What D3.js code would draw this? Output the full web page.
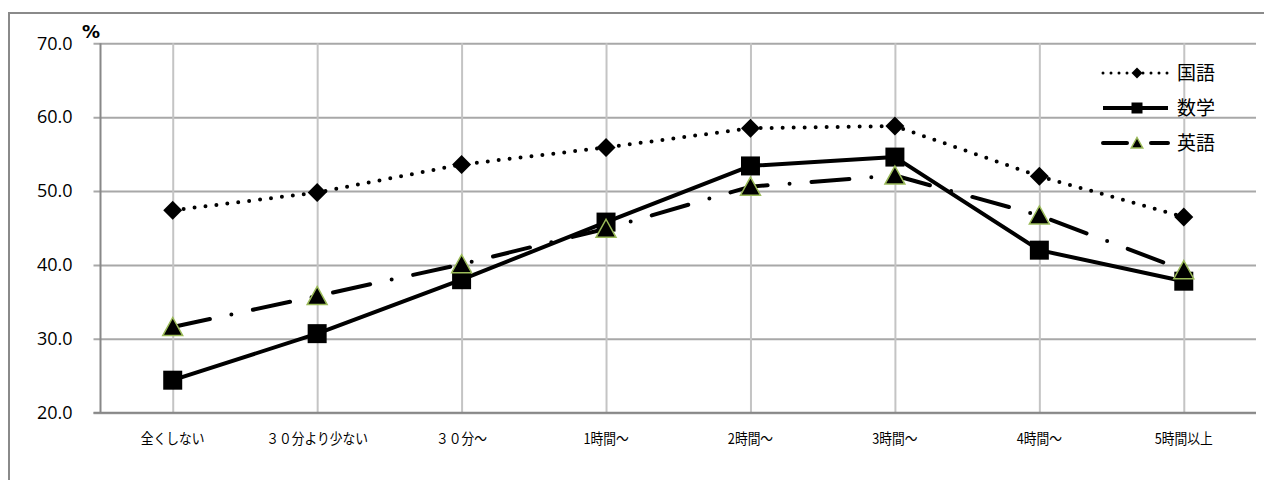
<!DOCTYPE html>
<html>
<head>
<meta charset="utf-8">
<script src="https://cdn.jsdelivr.net/npm/d3@7"></script>
<style>
  html, body { margin: 0; padding: 0; background: #fff; }
  svg { display: block; }
</style>
</head>
<body>
<svg id="chart" width="1264" height="480"></svg>
<script>
// Study time categories and average scores (%) per subject
const categories = ["全くしない", "３０分より少ない", "３０分～", "1時間～", "2時間～", "3時間～", "4時間～", "5時間以上"];
const kokugo = [47.4, 49.8, 53.6, 55.9, 58.5, 58.8, 52.0, 46.5];
const sugaku = [24.4, 30.7, 38.0, 45.8, 53.4, 54.6, 42.0, 37.8];
const eigo   = [31.6, 35.8, 40.1, 44.9, 50.6, 52.1, 46.7, 39.3];
const seriesNames = ["国語", "数学", "英語"];
const yTicks = [20, 30, 40, 50, 60, 70];

const svg = d3.select("#chart");
const plot = { left: 100.5, right: 1256, top: 43.3, bottom: 412.7 };

const x = d3.scalePoint().domain(categories).range([plot.left, plot.right]).padding(0.5);
const y = d3.scaleLinear().domain([20, 70]).range([plot.bottom, plot.top]);

// outer frame (runs past the right and bottom edges)
svg.append("path")
  .attr("d", "M9,490 L9,13 L1280,13")
  .attr("fill", "none").attr("stroke", "#8a8a8a").attr("stroke-width", 2);

// horizontal gridlines + outward ticks
const yAxis = d3.axisLeft(y).tickValues(yTicks).tickFormat(d3.format(".1f"))
  .tickSizeInner(-(plot.right - plot.left)).tickSizeOuter(0).tickPadding(28);
const gy = svg.append("g").attr("transform", `translate(${plot.left},0)`).call(yAxis);
gy.select(".domain").remove();
gy.selectAll(".tick line").attr("stroke", "#a8a8a8").attr("stroke-width", 2).attr("x1", -7);
gy.selectAll(".tick text")
  .attr("font-family", "'Open Sans', sans-serif").attr("font-size", 18).attr("font-weight", 400)
  .attr("fill", "#000").attr("x", -28);

// vertical gridlines at each category
const xAxis = d3.axisBottom(x).tickSizeInner(-(plot.bottom - plot.top)).tickSizeOuter(0).tickFormat("");
const gx = svg.append("g").attr("transform", `translate(0,${plot.bottom})`).call(xAxis);
gx.select(".domain").remove();
gx.selectAll(".tick line").attr("stroke", "#c4c4c4").attr("stroke-width", 2);

// axis lines
svg.append("line").attr("x1", plot.left).attr("x2", plot.left).attr("y1", plot.top).attr("y2", plot.bottom)
  .attr("stroke", "#888").attr("stroke-width", 2);
svg.append("line").attr("x1", plot.left - 7).attr("x2", plot.right).attr("y1", plot.bottom).attr("y2", plot.bottom)
  .attr("stroke", "#888").attr("stroke-width", 2);

// category labels
svg.append("g").selectAll("text").data(categories).join("text")
  .attr("transform", d => `translate(${x(d)},444) scale(0.88,1)`)
  .attr("text-anchor", "middle")
  .attr("font-family", "'Noto Sans CJK JP', sans-serif").attr("font-size", 14.5).attr("fill", "#000")
  .text(d => d);

// unit label
svg.append("text").attr("x", 82).attr("y", 38)
  .attr("font-family", "'DejaVu Sans', sans-serif").attr("font-size", 18).attr("font-weight", "bold")
  .text("%");

// marker shapes
const diamond = s => `M0,${-s} L${s},0 L0,${s} L${-s},0 Z`;
const square = s => `M${-s},${-s} H${s} V${s} H${-s} Z`;
const triangle = s => `M0,${-s} L${s * 1.05},${s * 0.9} L${-s * 1.05},${s * 0.9} Z`;

const styles = [
  { data: kokugo, dash: "0,11", width: 4, shape: diamond, size: 9.5, stroke: "none", lDash: "0,8", lWidth: 3, lSize: 5.5 },
  { data: sugaku, dash: null, width: 4, shape: square, size: 9.5, stroke: "none", lDash: null, lWidth: 4, lSize: 5.5 },
  { data: eigo, dash: "38,22,0,22", width: 4, shape: triangle, size: 9.5, stroke: "#9bbb59", lDash: "24,24", lWidth: 4, lSize: 5.5 }
];

const line = d3.line().x((d, i) => x(categories[i])).y(d => y(d));

styles.forEach(s => {
  svg.append("path").datum(s.data)
    .attr("d", line)
    .attr("fill", "none").attr("stroke", "#000").attr("stroke-width", s.width)
    .attr("stroke-linecap", "round").attr("stroke-linejoin", "round")
    .attr("stroke-dasharray", s.dash);
  svg.append("g").selectAll("path").data(s.data).join("path")
    .attr("transform", (d, i) => `translate(${x(categories[i])},${y(d)})`)
    .attr("d", s.shape(s.size))
    .attr("fill", "#000")
    .attr("stroke", s.stroke).attr("stroke-width", 1.5);
});

// legend
const legend = svg.append("g").attr("transform", "translate(1103,73)");
styles.forEach((s, i) => {
  const row = legend.append("g").attr("transform", `translate(0,${i * 35})`);
  row.append("line").attr("x1", 0).attr("x2", 65).attr("y1", 0).attr("y2", 0)
    .attr("stroke", "#000").attr("stroke-width", s.lWidth)
    .attr("stroke-linecap", s.lDash ? "round" : "butt")
    .attr("stroke-dasharray", s.lDash);
  row.append("path").attr("transform", "translate(34,0)")
    .attr("d", s.shape(s.lSize))
    .attr("fill", "#000").attr("stroke", s.stroke).attr("stroke-width", 1.5);
  row.append("text").attr("x", 74).attr("y", 0).attr("dy", "0.36em")
    .attr("font-family", "'Noto Sans CJK JP', sans-serif").attr("font-size", 19).attr("fill", "#000")
    .text(seriesNames[i]);
});
</script>
</body>
</html>
